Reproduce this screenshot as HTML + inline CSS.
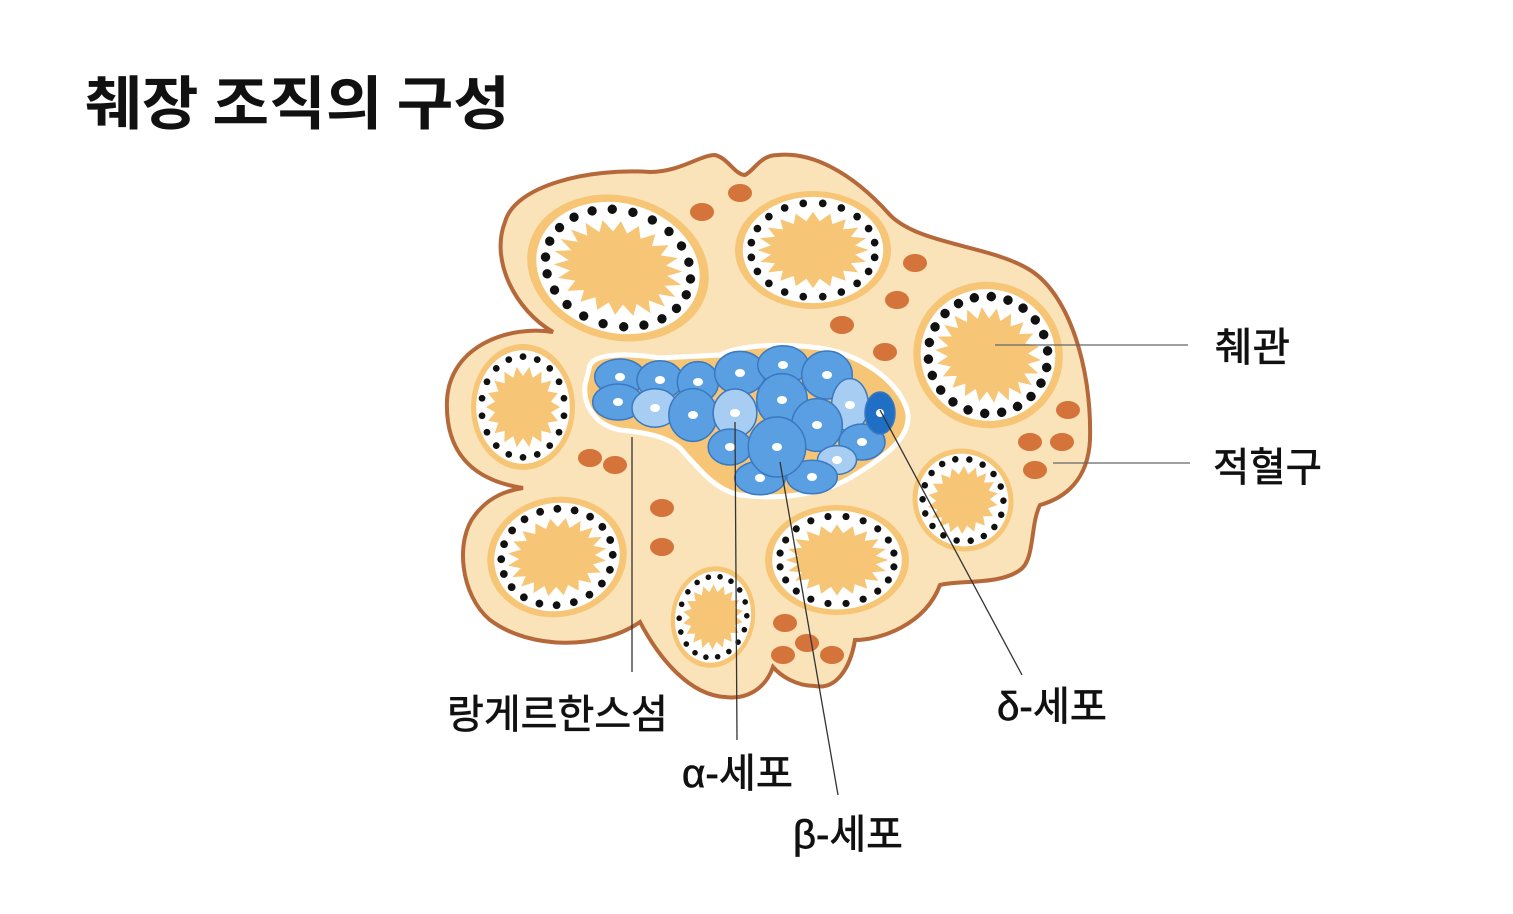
<!DOCTYPE html>
<html><head><meta charset="utf-8">
<style>
html,body{margin:0;padding:0;background:#fff;}
svg{display:block;}
text{font-family:"Liberation Sans","Noto Sans CJK KR",sans-serif;fill:#111;}
.lb{stroke:#111;stroke-width:0.7;}
</style></head>
<body>
<svg id="s" width="1513" height="914" viewBox="0 0 1513 914" xmlns="http://www.w3.org/2000/svg">
<text x="85" y="124" font-size="58" font-weight="bold" textLength="425" lengthAdjust="spacingAndGlyphs" style="font-family:'Noto Sans CJK KR',sans-serif">췌장 조직의 구성</text>
<path d="M 505,222 C 515,185 590,168 650,172 C 680,172 700,155 715,155 C 728,158 735,175 745,175 C 755,170 760,155 778,155 C 810,152 850,170 890,215 C 920,245 990,245 1030,270 C 1070,295 1092,370 1090,440 C 1088,480 1065,498 1040,505 C 1030,525 1035,560 1020,570 C 1000,585 960,580 940,585 C 925,625 880,640 855,640 C 850,670 835,690 815,686 C 795,686 780,675 773,667 C 765,690 745,700 725,697 C 690,695 660,660 640,622 C 600,650 530,650 490,620 C 460,595 455,540 475,515 C 490,495 510,490 523,488 C 470,480 445,450 447,400 C 450,345 510,325 553,332 C 515,310 490,260 505,222 Z" fill="#fbe3b9" stroke="#b5683a" stroke-width="4"/>
<g id="ac"></g>
<g id="rbc" fill="#d4743a"></g>
<path d="M 590,365 C 595,355 620,352 660,358 L 720,355 C 740,345 780,343 820,348 C 870,356 905,390 908,415 C 910,440 880,460 850,478 C 820,495 780,500 740,495 C 715,490 700,470 680,448 C 665,435 640,432 620,430 C 595,425 583,405 585,385 Z" fill="#f6c676" stroke="#fff" stroke-width="5"/>
<g id="cells" stroke="#3a78c0" stroke-width="1.5"></g>
<g stroke="#333" stroke-width="1.3" fill="none">
<line x1="995" y1="345" x2="1188" y2="345" stroke="#666"/>
<line x1="1053" y1="463" x2="1190" y2="463" stroke="#666"/>
<line x1="632" y1="437" x2="632" y2="672"/>
<line x1="735" y1="422" x2="737" y2="740"/>
<line x1="780" y1="462" x2="838" y2="795"/>
<line x1="880" y1="410" x2="1022" y2="675"/>
</g>
<text class="lb" x="1215" y="361" font-size="40" textLength="75" lengthAdjust="spacingAndGlyphs">췌관</text>
<text class="lb" x="1213" y="481" font-size="40" textLength="109" lengthAdjust="spacingAndGlyphs">적혈구</text>
<text class="lb" x="447" y="728" font-size="40" textLength="221" lengthAdjust="spacingAndGlyphs">랑게르한스섬</text>
<text class="lb" x="682" y="787" font-size="40" textLength="111" lengthAdjust="spacingAndGlyphs">α-세포</text>
<text class="lb" x="793" y="848" font-size="40" textLength="110" lengthAdjust="spacingAndGlyphs">β-세포</text>
<text class="lb" x="997" y="720" font-size="40" textLength="110" lengthAdjust="spacingAndGlyphs">δ-세포</text>
</svg>
<script>
var NS="http://www.w3.org/2000/svg";
function el(p,t,a){var e=document.createElementNS(NS,t);for(var k in a)e.setAttribute(k,a[k]);p.appendChild(e);return e;}
var ac=document.getElementById('ac');
var A=[[618,268,92,72,15,22],[813,250,78,59,0,20],[988,355,75,73,20,22],[523,407,52,63,0,18],[557,557,70,60,-10,20],[713,617,42,51,10,18],[837,560,72,55,0,20],[963,500,50,52,-30,18]];
A.forEach(function(a){
 var g=el(ac,'g',{transform:'translate('+a[0]+','+a[1]+') rotate('+a[4]+')'});
 var rx=a[2],ry=a[3],n=a[5];
 el(g,'ellipse',{cx:0,cy:0,rx:rx,ry:ry,fill:'#f6c676'});
 el(g,'ellipse',{cx:0,cy:0,rx:rx*0.9,ry:ry*0.9,fill:'#fff'});
 var pts=[];
 for(var i=0;i<n*2;i++){var t=i*Math.PI/n;var r=(i%2==0)?0.68:0.52;pts.push((Math.cos(t)*rx*r*1.05).toFixed(1)+','+(Math.sin(t)*ry*r*0.95).toFixed(1));}
 el(g,'polygon',{points:pts.join(' '),fill:'#f6c676'});
 for(var i=0;i<n;i++){var t=(i+0.5)*2*Math.PI/n;el(g,'circle',{cx:Math.cos(t)*rx*0.8,cy:Math.sin(t)*ry*0.8,r:Math.max(2.8,Math.min(rx,ry)*0.065),fill:'#111'});}
});
var rb=document.getElementById('rbc');
[[740,193],[702,212],[915,263],[897,300],[842,325],[885,352],[1068,410],[1030,442],[1062,442],[1035,470],[590,458],[615,465],[662,508],[662,547],[785,623],[783,655],[807,643],[832,655]].forEach(function(p){el(rb,'ellipse',{cx:p[0],cy:p[1],rx:12,ry:9,fill:'#d4743a'});});
var cg=document.getElementById('cells');
var C=[[620,377,22,15,0],[660,380,20,16,0],[698,382,18,17,0],[740,373,22,18,0],[783,365,22,16,0],[827,375,22,20,0],[618,402,22,15,0],[655,408,20,16,1],[693,415,21,22,0],[735,413,19,20,1],[782,400,22,22,0],[850,405,16,22,1],[817,425,22,22,0],[862,442,20,15,0],[837,460,17,12,1],[730,447,19,15,0],[760,478,22,14,0],[812,477,22,14,0],[777,447,25,25,0]];
C.forEach(function(c){el(cg,'ellipse',{cx:c[0],cy:c[1],rx:c[2]*1.15,ry:c[3]*1.2,fill:c[4]?'#a8cdf2':'#5a9fe2'});});
C.forEach(function(c){el(cg,'ellipse',{cx:c[0],cy:c[1],rx:5,ry:4,fill:'#fff',stroke:'none'});});
el(cg,'ellipse',{cx:880,cy:413,rx:15,ry:21,fill:'#1f6fc4'});
el(cg,'ellipse',{cx:880,cy:413,rx:4,ry:4,fill:'#fff',stroke:'none'});
</script>
</body></html>
